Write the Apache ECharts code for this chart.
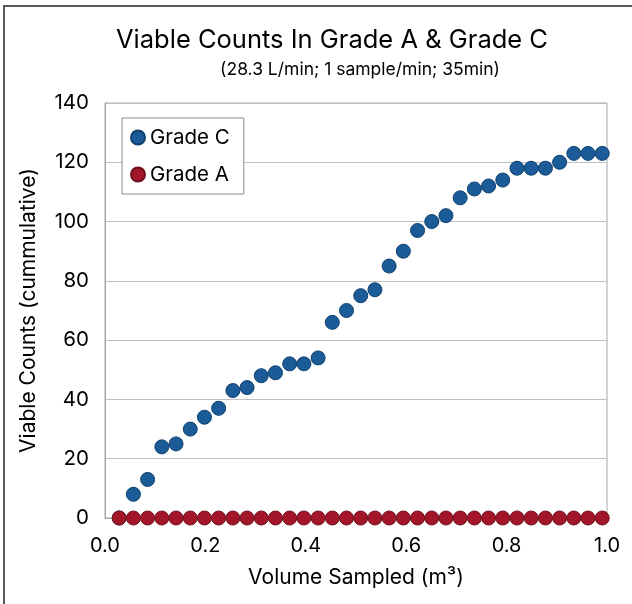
<!DOCTYPE html>
<html>
<head>
<meta charset="utf-8">
<title>Viable Counts</title>
<script src="https://cdn.jsdelivr.net/npm/echarts@6/dist/echarts.min.js"></script>
<style>
  html, body { margin: 0; padding: 0; background: #fff; }
  #chart { width: 632px; height: 604px; }
</style>
</head>
<body>
<div id="chart"></div>
<script>
// volume sampled, m3 (28.3 L per minute sample)
var volume = [0.0283, 0.0566, 0.0849, 0.1132, 0.1415, 0.1698, 0.1981, 0.2264, 0.2547, 0.283,
  0.3113, 0.3396, 0.3679, 0.3962, 0.4245, 0.4528, 0.4811, 0.5094, 0.5377, 0.566,
  0.5943, 0.6226, 0.6509, 0.6792, 0.7075, 0.7358, 0.7641, 0.7924, 0.8207, 0.849,
  0.8773, 0.9056, 0.9339, 0.9622, 0.9905];
// cummulative viable counts
var gradeC = [0, 8, 13, 24, 25, 30, 34, 37, 43, 44, 48, 49, 52, 52, 54, 66, 70, 75, 77, 85,
  90, 97, 100, 102, 108, 111, 112, 114, 118, 118, 118, 120, 123, 123, 123];
var gradeA = [0, 0, 0, 0, 0, 0, 0, 0, 0, 0, 0, 0, 0, 0, 0, 0, 0, 0, 0, 0,
  0, 0, 0, 0, 0, 0, 0, 0, 0, 0, 0, 0, 0, 0, 0];

var fontName = 'Inter';

function pairs(xs, ys) {
  var out = [];
  for (var i = 0; i < xs.length; i++) {
    out.push([xs[i], ys[i]]);
  }
  return out;
}

var chart = echarts.init(document.getElementById('chart'));
var option = {
  backgroundColor: '#fff',
  textStyle: { fontFamily: fontName, color: '#000' },
  graphic: [
    { // outer chart border, only top and left show in the frame
      type: 'rect',
      shape: { x: 4, y: 6, width: 700, height: 700 },
      style: { fill: 'none', stroke: '#595959', lineWidth: 2 },
      silent: true
    }
  ],
  title: [
    {
      text: 'Viable Counts In Grade A & Grade C',
      left: 327, top: 22, textAlign: 'center',
      textStyle: { fontFamily: fontName, fontSize: 25.5, fontWeight: 'normal', color: '#000' }
    },
    {
      text: '(28.3 L/min; 1 sample/min; 35min)',
      left: 355, top: 56, textAlign: 'center',
      textStyle: { fontFamily: fontName, fontSize: 17.5, fontWeight: 'normal', color: '#000' }
    }
  ],
  legend: {
    orient: 'vertical',
    left: 122, top: 118,
    padding: [9, 14, 9, 8],
    itemGap: 16,
    itemWidth: 14, itemHeight: 14,
    borderColor: '#8c8c8c', borderWidth: 1,
    backgroundColor: '#fff',
    textStyle: { fontFamily: fontName, fontSize: 20.5, color: '#000' },
    data: ['Grade C', 'Grade A']
  },
  grid: {
    left: 105, right: 25, top: 103, bottom: 86,
    show: true, borderColor: '#a6a6a6', borderWidth: 1,
    containLabel: false
  },
  xAxis: {
    type: 'value',
    min: 0, max: 1, interval: 0.2,
    name: 'Volume Sampled (m³)',
    nameLocation: 'middle', nameGap: 49,
    nameTextStyle: { fontFamily: fontName, fontSize: 21, color: '#000' },
    axisLine: { show: true, lineStyle: { color: '#a6a6a6' } },
    axisTick: { show: false },
    splitLine: { show: false },
    axisLabel: {
      margin: 18, fontSize: 20, color: '#000',
      formatter: function (v) { return v.toFixed(1); }
    }
  },
  yAxis: {
    type: 'value',
    min: 0, max: 140, interval: 20,
    name: 'Viable Counts (cummulative)',
    nameLocation: 'middle', nameGap: 66,
    nameTextStyle: { fontFamily: fontName, fontSize: 21, color: '#000' },
    axisLine: { show: true, lineStyle: { color: '#a6a6a6' } },
    axisTick: { show: false },
    splitLine: { show: true, lineStyle: { color: '#bfbfbf' } },
    axisLabel: { margin: 16, fontSize: 20.5, color: '#000' }
  },
  series: [
    {
      name: 'Grade C',
      type: 'scatter',
      symbol: 'circle', symbolSize: 14,
      itemStyle: { color: '#1a5b98', borderColor: '#0f406e', borderWidth: 1, opacity: 1 },
      data: pairs(volume, gradeC)
    },
    {
      name: 'Grade A',
      type: 'scatter',
      symbol: 'circle', symbolSize: 14,
      itemStyle: { color: '#a3162a', borderColor: '#70101c', borderWidth: 1, opacity: 1 },
      data: pairs(volume, gradeA)
    }
  ]
};
chart.setOption(option);
</script>
</body>
</html>
